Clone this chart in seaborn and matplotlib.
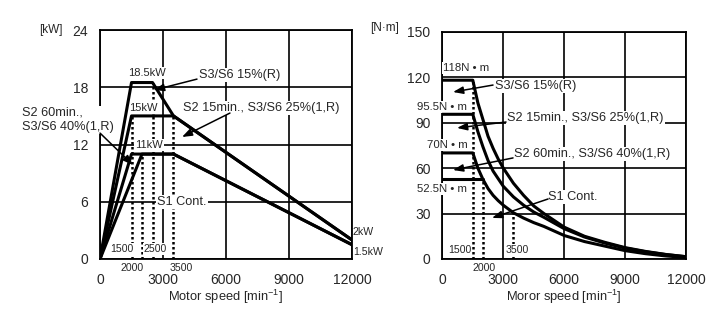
import matplotlib
matplotlib.use("Agg")
import matplotlib.pyplot as plt
import seaborn as sns

# ---- power curves [min^-1] / [kW] ----
speed_s3_15 = [0, 1500, 2500, 3500, 12000]
power_s3_15 = [0, 18.5, 18.5, 15, 2]
speed_s2_15 = [0, 1500, 3500, 12000]
power_s2_15 = [0, 15, 15, 2]
speed_s2_60 = [0, 1500, 3500, 12000]
power_s2_60 = [0, 11, 11, 1.5]
speed_s1 = [0, 2000, 3500, 12000]
power_s1 = [0, 11, 11, 1.5]

power_marker_speeds = [1500, 2000, 2500, 3500]
power_marker_tops = [15, 11, 18.5, 15]

# ---- torque curves [min^-1] / [N·m] ----
speed_t = [0, 1500, 1750, 2000, 2250, 2500, 2750, 3000, 3500, 4000, 4500,
           5000, 6000, 7000, 8000, 9000, 10000, 11000, 12000]
torque_s3_15 = [118, 118, 103, 92, 81, 73, 66, 60, 50, 42, 35,
                30, 21, 15, 11, 7.5, 5, 3, 1.5]
torque_s2_15 = [95.5, 95.5, 84, 74, 65, 58, 53, 48, 41, 35.5, 31,
                27.5, 20, 14.5, 10.5, 7.2, 4.8, 2.9, 1.5]
torque_s2_60 = [70, 70, 60, 52.5, 46.5, 42, 38.5, 35.5, 30.5, 27, 24,
                21.5, 15.5, 11.5, 8.5, 5.5, 3.5, 2, 1]
speed_s1_flat = [0, 2000]
torque_s1_flat = [52.5, 52.5]

torque_marker_speeds = [1500, 2000, 3500]
torque_marker_tops = [118, 52.5, 30.5]

x_ticks = [0, 3000, 6000, 9000, 12000]
power_ticks = [0, 6, 12, 18, 24]
torque_ticks = [0, 30, 60, 90, 120, 150]

sns.set_style("white")
plt.rcParams["font.family"] = ["Liberation Sans", "DejaVu Sans"]
plt.rcParams["mathtext.fontset"] = "custom"
plt.rcParams["mathtext.rm"] = "Liberation Sans"
plt.rcParams["mathtext.it"] = "Liberation Sans:italic"

fig = plt.figure(figsize=(7.28, 3.27), dpi=100)
axL = fig.add_axes([0.1374, 0.208, 0.346, 0.700])
axR = fig.add_axes([0.6076, 0.208, 0.3348, 0.695])

CURVE_LW = 2.2
LABEL_FS = 9.2
SMALL_FS = 7.6
WHITE = dict(boxstyle="square,pad=0.08", fc="white", ec="none")


def style_axes(ax, ymax, yticks, xlabel):
    ax.set_xlim(0, 12000)
    ax.set_ylim(0, ymax)
    ax.set_xticks(x_ticks)
    ax.set_yticks(yticks)
    ax.set_axisbelow(True)
    ax.grid(True, color="black", lw=1.2)
    for sp in ax.spines.values():
        sp.set_visible(True)
        sp.set_color("black")
        sp.set_linewidth(1.3)
    ax.tick_params(axis="x", length=0, pad=10, labelsize=10)
    ax.tick_params(axis="y", length=0, pad=8.5, labelsize=10)
    ax.set_xlabel(xlabel, fontsize=9.3, labelpad=1)
    ax.set_ylabel("")


def curve(ax, x, y):
    sns.lineplot(x=x, y=y, ax=ax, color="black", linewidth=CURVE_LW,
                 estimator=None, sort=False, zorder=4)


def arrow(ax, tail, head):
    ax.annotate("", xy=head, xytext=tail,
                arrowprops=dict(arrowstyle="-|>,head_length=0.6,head_width=0.22",
                                color="black", lw=1.1, shrinkA=0, shrinkB=0),
                zorder=5, annotation_clip=False)


def label(ax, x, y, s, fs=LABEL_FS, ha="left", bg=True):
    ax.text(x, y, s, fontsize=fs, ha=ha, va="center", clip_on=False,
            bbox=WHITE if bg else None, zorder=3)


# ================= power chart =================
style_axes(axL, 24, power_ticks, r"Motor speed [min$^{\mathregular{-1}}$]")
axL.vlines(power_marker_speeds, 0, power_marker_tops, colors="black",
           linestyles=(0, (1, 1)), lw=1.8, zorder=1.5)
curve(axL, speed_s3_15, power_s3_15)
curve(axL, speed_s2_15, power_s2_15)
curve(axL, speed_s2_60, power_s2_60)
curve(axL, speed_s1, power_s1)

label(axL, 2222, 19.5, "18.5kW", fs=SMALL_FS + 0.4, ha="center")
label(axL, 2048, 15.82, "15kW", fs=SMALL_FS + 0.4, ha="center")
label(axL, 2333, 11.95, "11kW", fs=SMALL_FS + 0.4, ha="center")
label(axL, 4714, 19.28, "S3/S6 15%(R)")
label(axL, 3952, 15.82, "S2 15min., S3/S6 25%(1,R)")
label(axL, -3727, 14.6, "S2 60min.,\nS3/S6 40%(1,R)")
label(axL, 2714, 5.97, "S1 Cont.")
label(axL, 1033, 1.05, "1500", fs=SMALL_FS, ha="center")
label(axL, 2619, 1.05, "2500", fs=SMALL_FS, ha="center")
label(axL, 1510, -0.94, "2000", fs=SMALL_FS, ha="center")
label(axL, 3857, -0.94, "3500", fs=SMALL_FS, ha="center")
label(axL, 12048, 2.83, "2kW", fs=SMALL_FS, bg=False)
label(axL, 12048, 0.73, "1.5kW", fs=SMALL_FS, bg=False)
label(axL, -2357, 24, "[kW]", fs=8.5, ha="center", bg=False)

arrow(axL, (4619, 18.86), (2571, 17.71))
arrow(axL, (6190, 15.3), (3905, 12.79))
arrow(axL, (0, 13.2), (1571, 9.85))

# ================= torque chart =================
style_axes(axR, 150, torque_ticks, r"Moror speed [min$^{\mathregular{-1}}$]")
axR.vlines(torque_marker_speeds, 0, torque_marker_tops, colors="black",
           linestyles=(0, (1, 1)), lw=1.8, zorder=1.5)
curve(axR, speed_t, torque_s3_15)
curve(axR, speed_t, torque_s2_15)
curve(axR, speed_t, torque_s2_60)
curve(axR, speed_s1_flat, torque_s1_flat)

label(axR, 34, 126, "118N • m", fs=SMALL_FS + 0.6)
label(axR, 1216, 100.3, "95.5N • m", fs=SMALL_FS + 0.6, ha="right")
label(axR, 1265, 75.2, "70N • m", fs=SMALL_FS + 0.6, ha="right")
label(axR, 1216, 46.2, "52.5N • m", fs=SMALL_FS + 0.6, ha="right")
label(axR, 2595, 114.2, "S3/S6 15%(R)")
label(axR, 3186, 93.05, "S2 15min., S3/S6 25%(1,R)")
label(axR, 3530, 69.3, "S2 60min., S3/S6 40%(1,R)")
label(axR, 5205, 40.9, "S1 Cont.")
label(axR, 871, 5.9, "1500", fs=SMALL_FS, ha="center")
label(axR, 3703, 5.9, "3500", fs=SMALL_FS, ha="center")
label(axR, 2078, -5.9, "2000", fs=SMALL_FS, ha="center")
label(axR, -2846, 152.5, "[N·m]", fs=8.5, ha="center", bg=False)

arrow(axR, (2496, 114.8), (527, 110.2))
arrow(axR, (3137, 90.4), (724, 86.5))
arrow(axR, (3481, 66.7), (527, 58.7))
arrow(axR, (5205, 39.6), (2447, 27.1))

fig.savefig("out.png", dpi=100)
